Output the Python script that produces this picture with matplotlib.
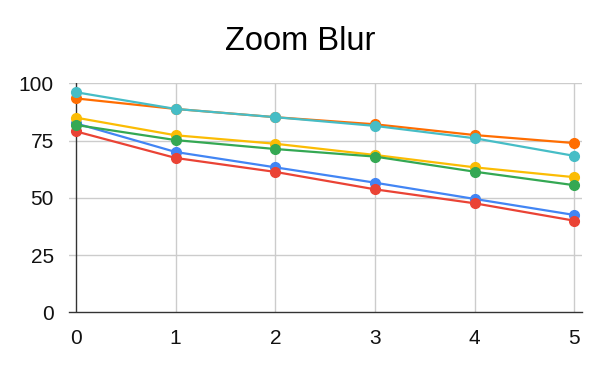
import matplotlib.pyplot as plt
import numpy as np

plt.rcParams['font.family'] = ['Liberation Sans', 'DejaVu Sans']

# Data
x = [0, 1, 2, 3, 4, 5]
blue = [82.5, 70.0, 63.3, 56.6, 49.5, 42.5]
red = [79.0, 67.4, 61.3, 53.7, 47.6, 40.0]
yellow = [85.0, 77.3, 73.6, 68.7, 63.3, 59.0]
green = [81.8, 75.2, 71.3, 68.0, 61.4, 55.5]
orange = [93.4, 88.8, 85.2, 82.1, 77.4, 73.9]
teal = [96.1, 88.8, 85.2, 81.4, 76.0, 68.3]

series = [
    (blue, '#4285F4'),
    (red, '#EA4335'),
    (yellow, '#FBBC04'),
    (green, '#34A853'),
    (orange, '#FF6D01'),
    (teal, '#46BDC6'),
]

fig = plt.figure(figsize=(6, 3.71), dpi=100)
ax = fig.add_axes([69 / 600, 1 - 312.3 / 371, (582 - 69) / 600, (312.3 - 83.3) / 371])

for vals, col in series:
    ax.plot(x, vals, color=col, lw=1.6, marker='o', ms=7, zorder=3, clip_on=False)

ax.set_xlim(-0.07, 5.077)
ax.set_ylim(0, 100)
ax.set_xticks(x)
ax.set_yticks([0, 25, 50, 75, 100])

# grid drawn by hand, x=0 line is the dark axis
for t in x:
    if t != 0:
        ax.axvline(t, color='#cccccc', lw=1, zorder=1)
for t in [25, 50, 75, 100]:
    ax.axhline(t, color='#cccccc', lw=1, zorder=1)
ax.axvline(0, color='#333333', lw=1, zorder=2)

for s in ['top', 'right', 'left']:
    ax.spines[s].set_visible(False)
ax.spines['bottom'].set_color('#333333')
ax.spines['bottom'].set_linewidth(1)

ax.tick_params(axis='both', length=0, labelsize=15, colors='#111111')
ax.tick_params(axis='y', pad=11)
ax.tick_params(axis='x', pad=12)

fig.text(0.5, 1 - 50 / 371, 'Zoom Blur', ha='center', va='baseline', fontsize=23.5)

fig.savefig('out.png', dpi=100)
